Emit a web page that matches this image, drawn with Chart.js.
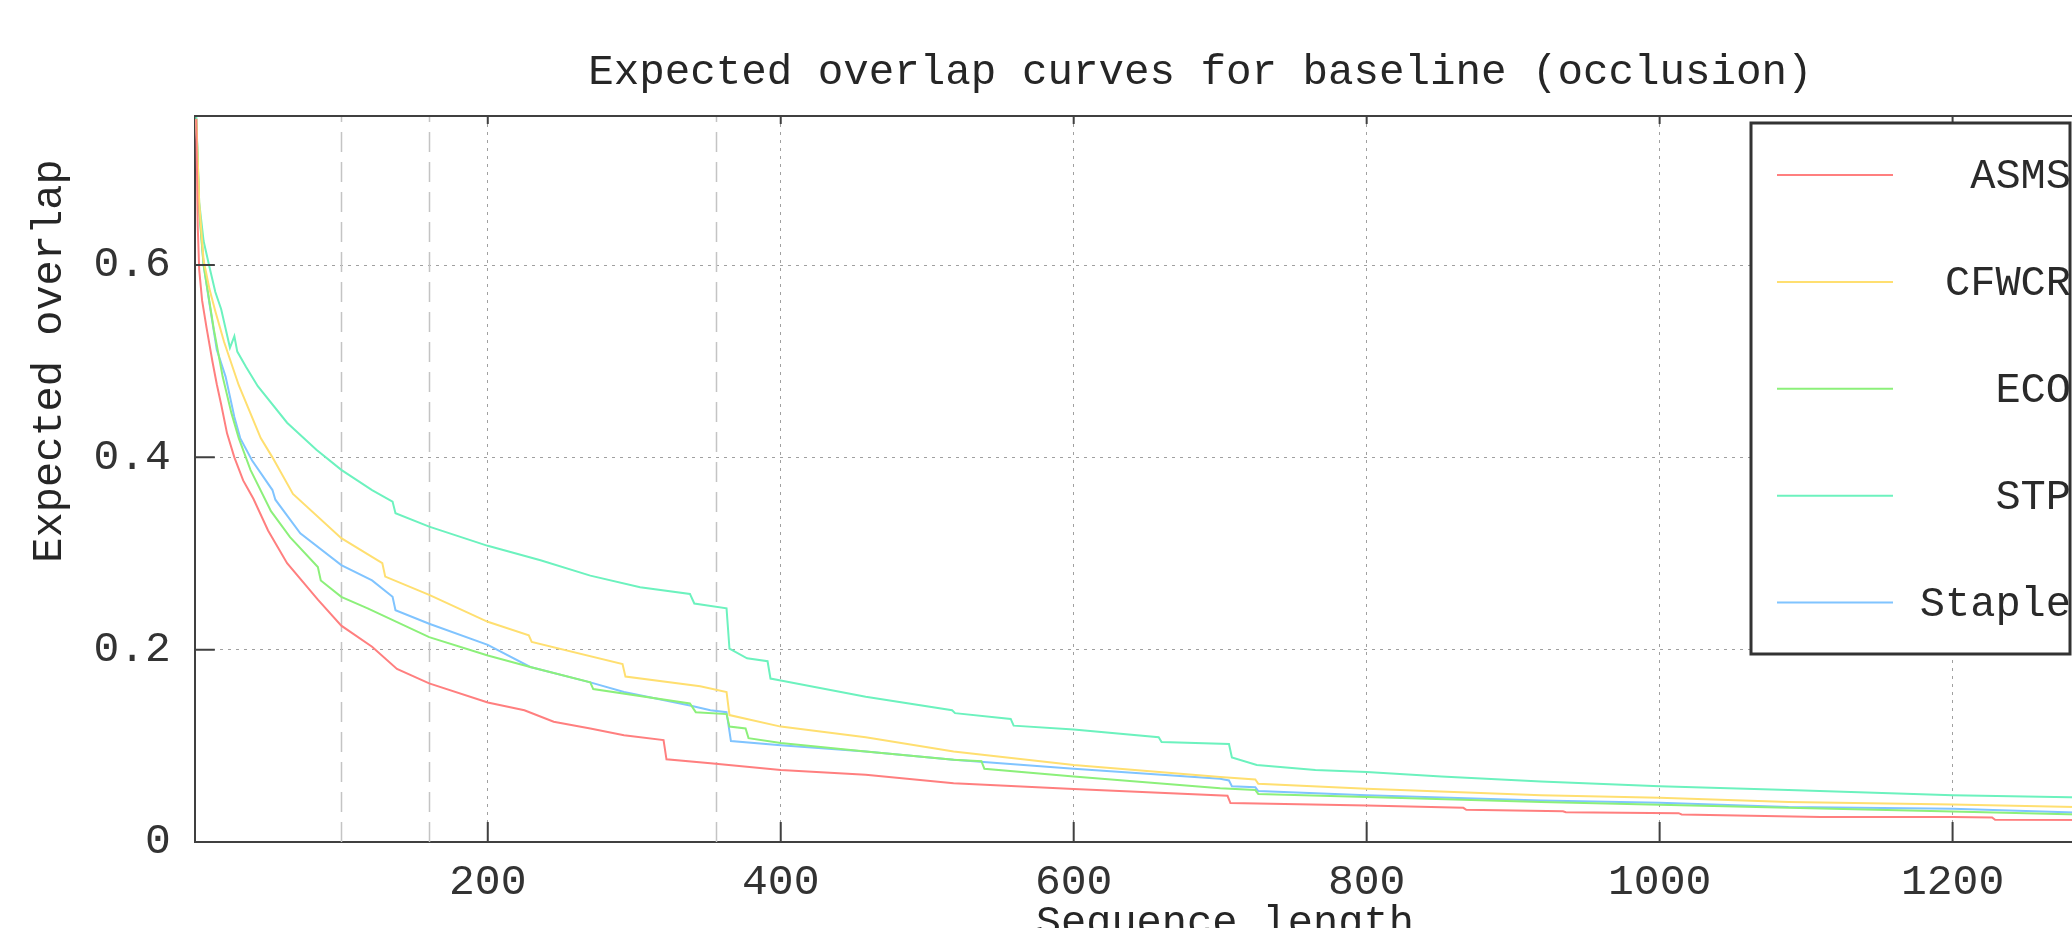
<!DOCTYPE html>
<html>
<head>
<meta charset="utf-8">
<script src="https://cdn.jsdelivr.net/npm/chart.js@4/dist/chart.umd.min.js"></script>
<style>
  html, body { margin: 0; padding: 0; background: #fff; overflow: hidden; }
  #wrap { width: 2400px; height: 938px; }
</style>
</head>
<body>
<div id="wrap"><canvas id="eao" width="2400" height="938"></canvas></div>
<script>
// Expected overlap curves, [sequence length, expected overlap]
const asms = [[1,0.752],[2,0.64],[3,0.595],[5,0.563],[8,0.535],[12,0.5],[15,0.476],[18,0.455],[22,0.425],[27,0.4],[33,0.376],[36,0.368],[40,0.357],[50,0.324],[63,0.29],[84,0.252],[100,0.225],[121,0.203],[138,0.18],[160,0.165],[200,0.145],[225,0.137],[245,0.125],[270,0.118],[293,0.111],[320,0.106],[322,0.086],[352,0.082],[400,0.075],[458,0.07],[518,0.061],[600,0.055],[705,0.048],[707,0.0405],[800,0.038],[866,0.0355],[868,0.0335],[934,0.032],[936,0.031],[1013,0.03],[1015,0.0287],[1110,0.026],[1200,0.026],[1227,0.0255],[1229,0.0231],[1300,0.023]];
const cfwcr = [[1,0.752],[3,0.665],[6,0.605],[10,0.575],[14,0.552],[20,0.52],[30,0.475],[45,0.42],[53,0.4],[67,0.362],[100,0.316],[128,0.29],[130,0.276],[160,0.257],[200,0.229],[228,0.215],[230,0.208],[292,0.185],[294,0.172],[345,0.162],[363,0.156],[365,0.132],[400,0.12],[458,0.109],[518,0.094],[600,0.08],[700,0.0676],[724,0.065],[726,0.0606],[800,0.0554],[919,0.0485],[1000,0.046],[1088,0.0415],[1200,0.039],[1300,0.036]];
const eco = [[1,0.752],[3,0.655],[6,0.6],[13,0.533],[19,0.484],[25,0.446],[30,0.42],[38,0.387],[52,0.344],[65,0.317],[84,0.286],[86,0.272],[100,0.255],[118,0.243],[160,0.213],[200,0.194],[229,0.182],[270,0.166],[272,0.159],[338,0.144],[342,0.135],[363,0.133],[365,0.12],[376,0.118],[378,0.108],[400,0.103],[458,0.094],[518,0.0855],[537,0.084],[539,0.0762],[600,0.068],[700,0.056],[724,0.054],[726,0.05],[800,0.0467],[919,0.0415],[1000,0.0387],[1088,0.0356],[1200,0.0318],[1300,0.028]];
const stp = [[1,0.755],[3,0.665],[6,0.625],[10,0.598],[14,0.572],[18,0.554],[24,0.514],[27,0.526],[29,0.51],[35,0.494],[43,0.474],[63,0.436],[83,0.408],[100,0.387],[121,0.366],[135,0.354],[137,0.342],[160,0.328],[200,0.308],[236,0.293],[270,0.277],[304,0.265],[338,0.258],[341,0.248],[363,0.243],[365,0.201],[377,0.191],[391,0.188],[393,0.17],[400,0.168],[458,0.151],[517,0.137],[519,0.134],[557,0.128],[559,0.121],[600,0.117],[658,0.109],[660,0.104],[706,0.102],[708,0.088],[725,0.08],[765,0.075],[800,0.0727],[851,0.068],[919,0.063],[1000,0.058],[1088,0.054],[1200,0.0485],[1300,0.046]];
const staple = [[1,0.752],[3,0.66],[6,0.6],[10,0.56],[15,0.512],[21,0.484],[27,0.442],[31,0.42],[39,0.397],[53,0.366],[55,0.356],[72,0.321],[100,0.288],[121,0.272],[135,0.255],[137,0.241],[160,0.227],[200,0.205],[229,0.182],[270,0.166],[293,0.156],[338,0.142],[352,0.137],[363,0.135],[366,0.105],[400,0.1006],[458,0.094],[518,0.0856],[600,0.0762],[700,0.0658],[706,0.064],[708,0.058],[724,0.057],[726,0.053],[800,0.0485],[919,0.0432],[1000,0.0408],[1088,0.0363],[1200,0.0345],[1300,0.03]];

const trackers = ['ASMS', 'CFWCR', 'ECO', 'STP', 'Staple'];
const curves = [asms, cfwcr, eco, stp, staple];
const colors = ['#ff7f7f', '#ffdf70', '#8cf07a', '#6cf2be', '#80c4ff'];

const xTicks = [200, 400, 600, 800, 1000, 1200];
const yTicks = [0, 0.2, 0.4, 0.6];
const yTickLabels = ['0', '0.2', '0.4', '0.6'];
const intervalMarks = [100, 160, 356]; // dashed verticals

const MONO = '"Liberation Mono", "DejaVu Sans Mono", monospace';
const AXIS = '#404040';

// frame, inward ticks, interval lines, axis titles, legend box
const framePlugin = {
    id: 'frame',
    beforeDatasetsDraw(chart) {
        const { ctx, chartArea: a, scales: { x } } = chart;
        ctx.save();
        ctx.strokeStyle = '#c4c4c4';
        ctx.lineWidth = 1.5;
        ctx.setLineDash([20, 10]);
        intervalMarks.forEach(v => {
            const px = Math.round(x.getPixelForValue(v)) + 0.5;
            ctx.beginPath();
            ctx.moveTo(px, a.bottom);
            ctx.lineTo(px, a.top);
            ctx.stroke();
        });
        ctx.restore();
    },
    afterDraw(chart) {
        const { ctx, chartArea: a, scales: { x, y } } = chart;
        ctx.save();
        ctx.strokeStyle = AXIS;
        ctx.lineWidth = 2;
        // top frame
        ctx.beginPath();
        ctx.moveTo(a.left, a.top);
        ctx.lineTo(a.right, a.top);
        ctx.stroke();
        // inward ticks
        ctx.beginPath();
        xTicks.forEach(v => {
            const px = x.getPixelForValue(v);
            ctx.moveTo(px, a.bottom); ctx.lineTo(px, a.bottom - 20);
            ctx.moveTo(px, a.top); ctx.lineTo(px, a.top + 8);
        });
        yTicks.forEach(v => {
            const py = y.getPixelForValue(v);
            ctx.moveTo(a.left, py); ctx.lineTo(a.left + 20, py);
        });
        ctx.stroke();

        // axis titles
        ctx.fillStyle = '#262626';
        ctx.font = '42px ' + MONO;
        ctx.textAlign = 'center';
        ctx.textBaseline = 'alphabetic';
        ctx.fillText('Sequence length', a.left + 1030, a.bottom + 93);
        ctx.save();
        ctx.translate(a.left - 134, a.top + 245);
        ctx.rotate(-Math.PI / 2);
        ctx.fillText('Expected overlap', 0, 0);
        ctx.restore();

        // legend
        const bx = a.right - 455, by = a.top + 7;
        const bw = 319, bh = 531;
        ctx.fillStyle = '#fff';
        ctx.fillRect(bx, by, bw, bh);
        ctx.lineWidth = 3;
        ctx.strokeStyle = '#333';
        ctx.strokeRect(bx, by, bw, bh);
        ctx.beginPath();
        ctx.rect(bx, by, bw, bh);
        ctx.clip();
        ctx.font = '42px ' + MONO;
        ctx.textAlign = 'right';
        ctx.textBaseline = 'middle';
        chart.data.datasets.forEach((ds, i) => {
            const ly = by + 52 + i * 106.9;
            ctx.strokeStyle = ds.borderColor;
            ctx.lineWidth = 2;
            ctx.beginPath();
            ctx.moveTo(bx + 26, ly);
            ctx.lineTo(bx + 142, ly);
            ctx.stroke();
            ctx.fillStyle = '#2a2a2a';
            ctx.fillText(ds.label, bx + bw + 1, ly + 2);
        });
        ctx.restore();
    }
};

new Chart(document.getElementById('eao'), {
    type: 'line',
    data: {
        datasets: trackers.map((name, i) => ({
            label: name,
            data: curves[i].map(p => ({ x: p[0], y: p[1] })),
            borderColor: colors[i],
            borderWidth: 2,
            pointRadius: 0,
            tension: 0,
            fill: false
        }))
    },
    options: {
        responsive: false,
        animation: false,
        layout: { padding: { left: 69.4, right: 194, top: 0, bottom: 14 } },
        plugins: {
            legend: { display: false },
            tooltip: { enabled: false },
            title: {
                display: true,
                text: 'Expected overlap curves for baseline (occlusion)',
                fullSize: false,
                color: '#262626',
                font: { family: MONO, size: 42.5, weight: 'normal', lineHeight: 1 },
                padding: { top: 51, bottom: 22.5 }
            }
        },
        scales: {
            x: {
                type: 'linear',
                min: 0,
                max: 1373,
                afterBuildTicks: s => { s.ticks = xTicks.map(v => ({ value: v })); },
                grid: { color: '#a0a0a0', lineWidth: 1, drawTicks: false },
                border: { color: AXIS, width: 2, dash: [3, 5] },
                ticks: {
                    color: '#333',
                    padding: 19.5,
                    maxRotation: 0,
                    font: { family: MONO, size: 43, lineHeight: 1 },
                    callback: v => String(v)
                }
            },
            y: {
                min: 0,
                max: 0.755,
                afterBuildTicks: s => { s.ticks = yTicks.map(v => ({ value: v })); },
                grid: { color: '#a0a0a0', lineWidth: 1, drawTicks: false },
                border: { color: AXIS, width: 2, dash: [3, 5] },
                ticks: {
                    color: '#333',
                    padding: 24,
                    font: { family: MONO, size: 43, lineHeight: 1 },
                    callback: (v, i) => yTickLabels[i]
                }
            }
        }
    },
    plugins: [framePlugin]
});
</script>
</body>
</html>
